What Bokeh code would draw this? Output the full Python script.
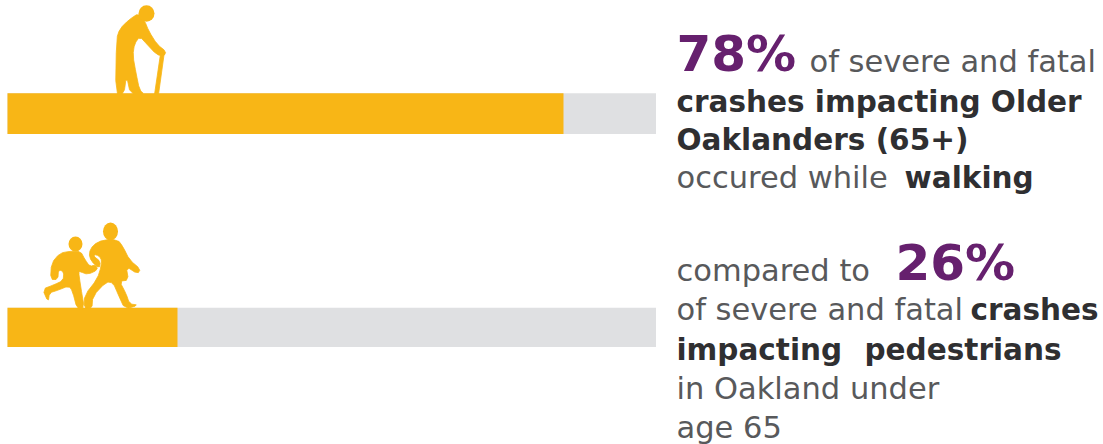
from bokeh.core.properties import value
from bokeh.embed import file_html
from bokeh.layouts import row
from bokeh.models import Range1d
from bokeh.plotting import figure
from bokeh.resources import INLINE

# Share of severe and fatal crashes that occurred while walking
groups = ["Older Oaklanders (65+)", "Under age 65"]
shares = [78, 26]
whole = [100, 100]

GOLD = "#F8B616"
TRACK = "#DFE0E2"
PURPLE = "#66206E"
BODY = "#58595B"
STRONG = "#2F2F31"
FONT = "DejaVu Sans"
REGULAR = 30.5
HEAVY = 29.5
BIG = 50

# Layout, in page pixels
ROW_TOPS = [92.7, 307.3]
ROW_BOTTOMS = [133.6, 346.6]

p = figure(
    width=656, height=444, frame_width=649, frame_height=444,
    min_border_left=7, min_border_right=0, min_border_top=0, min_border_bottom=0,
    x_range=Range1d(3.1, 90.53), y_range=Range1d(444, 0),
    output_backend="svg", toolbar_location=None, outline_line_color=None,
)
p.xgrid.visible = False
p.ygrid.visible = False
p.xaxis.visible = False
p.yaxis.visible = False
p.extra_x_ranges["page"] = Range1d(7, 656)

# Bars: a grey track with the share over it
p.quad(left=0, right=whole, top=ROW_TOPS, bottom=ROW_BOTTOMS, fill_color=TRACK, line_color=None)
p.quad(left=0, right=shares, top=ROW_TOPS, bottom=ROW_BOTTOMS, fill_color=GOLD, line_color=None)


def rounded(points, passes=2):
    """Corner-cutting so the figure outlines read as soft silhouettes."""
    for _ in range(passes):
        out = []
        for i, (x0, y0) in enumerate(points):
            x1, y1 = points[(i + 1) % len(points)]
            out.append((0.75 * x0 + 0.25 * x1, 0.75 * y0 + 0.25 * y1))
            out.append((0.25 * x0 + 0.75 * x1, 0.25 * y0 + 0.75 * y1))
        points = out
    return points


def outline(points, dy=0.0):
    """Outline points are noted at 3x; return page-pixel x and y lists."""
    return [px / 3 for px, _ in points], [py / 3 + dy for _, py in points]


walker = [(345, 282), (348, 115), (358, 85), (385, 58), (415, 38), (432, 60), (445, 92), (470, 132),
          (497, 153), (490, 167), (468, 162), (440, 132), (418, 108), (402, 130), (397, 165), (407, 220),
          (417, 268), (432, 282), (390, 282), (378, 225), (370, 282)]
cane = [(480, 160), (491, 160), (474, 282), (462, 282)]
child = [(178, 128), (210, 122), (240, 122), (254, 148), (268, 168), (285, 163), (292, 178), (262, 192),
         (240, 184), (234, 182), (240, 225), (252, 296), (230, 296), (216, 242), (205, 226), (170, 240),
         (147, 247), (143, 275), (126, 236), (160, 223), (188, 210), (190, 184), (174, 177), (172, 207),
         (150, 207), (153, 158)]
adult = [(308, 88), (352, 88), (367, 108), (387, 148), (420, 176), (411, 190), (377, 168), (384, 209),
         (357, 212), (377, 250), (387, 280), (414, 284), (373, 296), (353, 252), (338, 217), (317, 214),
         (277, 257), (274, 296), (250, 292), (253, 253), (290, 206), (303, 165), (302, 142), (287, 132),
         (278, 136), (300, 153), (296, 174), (272, 152), (265, 128), (278, 103)]

for shape, dy, passes in ((walker, 0, 1), (cane, 0, 0), (child, 210, 1), (adult, 210, 1)):
    xs, ys = outline(rounded(shape, passes), dy=dy)
    p.patch(xs, ys, x_range_name="page", fill_color=GOLD, line_color=GOLD, line_width=0.8, line_join="round")

p.ellipse(x=[146], y=[13], width=16, height=16.5, x_range_name="page", fill_color=GOLD, line_color=None)
p.ellipse(x=[75], y=[243.5], width=14, height=15, x_range_name="page", fill_color=GOLD, line_color=None)
p.ellipse(x=[110], y=[231], width=15, height=18, x_range_name="page", fill_color=GOLD, line_color=None)

# Text column: x, baseline, string, colour, size, style
t = figure(
    width=447, height=444, frame_width=447, frame_height=444,
    min_border_left=0, min_border_right=0, min_border_top=0, min_border_bottom=0,
    x_range=Range1d(656, 1103), y_range=Range1d(444, 0),
    output_backend="svg", toolbar_location=None, outline_line_color=None,
)
t.xgrid.visible = False
t.ygrid.visible = False
t.xaxis.visible = False
t.yaxis.visible = False

runs = [
    (676, 72, f"{shares[0]}%", PURPLE, BIG, "bold"),
    (809, 72, "of severe and fatal", BODY, REGULAR, "normal"),
    (676, 112, "crashes impacting Older", STRONG, HEAVY, "bold"),
    (676, 150, "Oaklanders (65+)", STRONG, HEAVY, "bold"),
    (676, 188, "occured while", BODY, REGULAR, "normal"),
    (904, 188, "walking", STRONG, HEAVY, "bold"),
    (676, 281, "compared to", BODY, REGULAR, "normal"),
    (895, 281, f"{shares[1]}%", PURPLE, BIG, "bold"),
    (676, 320, "of severe and fatal", BODY, REGULAR, "normal"),
    (970, 320, "crashes", STRONG, HEAVY, "bold"),
    (676, 360, "impacting", STRONG, HEAVY, "bold"),
    (864, 360, "pedestrians", STRONG, HEAVY, "bold"),
    (676, 399, "in Oakland under", BODY, REGULAR, "normal"),
    (676, 438, "age 65", BODY, REGULAR, "normal"),
]
for x, y, text, color, size, style in runs:
    t.text(x=[x], y=[y], text=[text], text_color=color, text_font_size=f"{size}px", text_font_style=style,
           text_font=value(FONT), text_baseline="alphabetic", y_offset=-round(0.375 * size))

open("out.html", "w").write(file_html(row(p, t, spacing=0), INLINE))
